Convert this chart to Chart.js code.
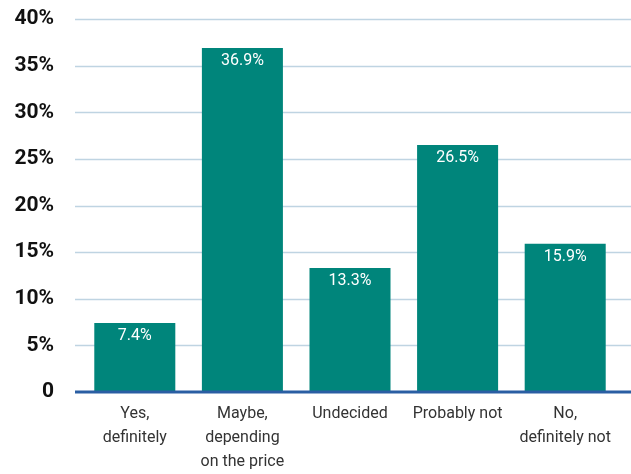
<!DOCTYPE html>
<html>
<head>
<meta charset="utf-8">
<script src="https://cdn.jsdelivr.net/npm/chart.js@4"></script>
<style>
  html, body { margin: 0; padding: 0; background: #fff; }
  #wrap { width: 631px; height: 474px; position: relative; }
</style>
</head>
<body>
<div id="wrap"><canvas id="priceChart"></canvas></div>
<script>
// Survey answers and their shares (%)
const categories = [
    ['Yes,', 'definitely'],
    ['Maybe,', 'depending', 'on the price'],
    ['Undecided'],
    ['Probably not'],
    ['No,', 'definitely not']
];
const shares = [7.4, 36.9, 13.3, 26.5, 15.9];
const yTickLabels = ['0', '5%', '10%', '15%', '20%', '25%', '30%', '35%', '40%'];

const teal = '#00857b';
const gridBlue = '#bfd4e2';
const axisBlue = '#2a5ea3';

// grid lines run a bit wider than the bars area, bars sit on top of them
const gridPlugin = {
    id: 'wideGrid',
    beforeDatasetsDraw(chart) {
        const { ctx, scales: { y } } = chart;
        ctx.save();
        ctx.strokeStyle = gridBlue;
        ctx.lineWidth = 1.5;
        y.ticks.forEach(t => {
            if (t.value === 0) return;
            const py = Math.round(y.getPixelForValue(t.value)) + 0.5;
            ctx.beginPath();
            ctx.moveTo(75, py);
            ctx.lineTo(chart.width, py);
            ctx.stroke();
        });
        ctx.restore();
    },
    afterDatasetsDraw(chart) {
        const { ctx, scales: { y } } = chart;
        ctx.save();
        // zero line
        const py = y.getPixelForValue(0);
        ctx.strokeStyle = axisBlue;
        ctx.lineWidth = 3;
        ctx.beginPath();
        ctx.moveTo(75, py);
        ctx.lineTo(chart.width, py);
        ctx.stroke();

        // value labels inside the top of each bar
        ctx.fillStyle = '#ffffff';
        ctx.font = '16px Roboto';
        ctx.textAlign = 'center';
        ctx.textBaseline = 'middle';
        chart.getDatasetMeta(0).data.forEach((bar, i) => {
            ctx.fillText(shares[i].toFixed(1) + '%', bar.x, bar.y + 13);
        });
        ctx.restore();
    }
};

const ctx = document.getElementById('priceChart').getContext('2d');

new Chart(ctx, {
    type: 'bar',
    data: {
        labels: categories,
        datasets: [{
            data: shares,
            backgroundColor: teal,
            borderWidth: 0,
            categoryPercentage: 1,
            barPercentage: 0.753
        }]
    },
    options: {
        responsive: true,
        maintainAspectRatio: false,
        animation: false,
        layout: { padding: { top: 19, right: 12, left: 0, bottom: 0 } },
        plugins: {
            legend: { display: false },
            tooltip: { enabled: false }
        },
        scales: {
            y: {
                min: 0,
                max: 40,
                border: { display: false },
                grid: { display: false },
                ticks: {
                    stepSize: 5,
                    padding: 19,
                    color: '#111',
                    font: { family: 'Roboto', size: 21, weight: 'bold' },
                    callback: (v, i) => yTickLabels[i]
                },
                afterFit(scale) {
                    scale.width = 81;
                    scale.paddingTop = 0;
                    scale.paddingBottom = 0;
                }
            },
            x: {
                border: { display: false },
                grid: { display: false, drawTicks: false },
                ticks: {
                    padding: 10,
                    color: '#333',
                    maxRotation: 0,
                    autoSkip: false,
                    font: { family: 'Roboto', size: 16, lineHeight: 1.5 }
                },
                afterFit(scale) {
                    scale.height = 82;
                    scale.paddingLeft = 0;
                    scale.paddingRight = 0;
                }
            }
        }
    },
    plugins: [gridPlugin]
});
</script>
</body>
</html>
